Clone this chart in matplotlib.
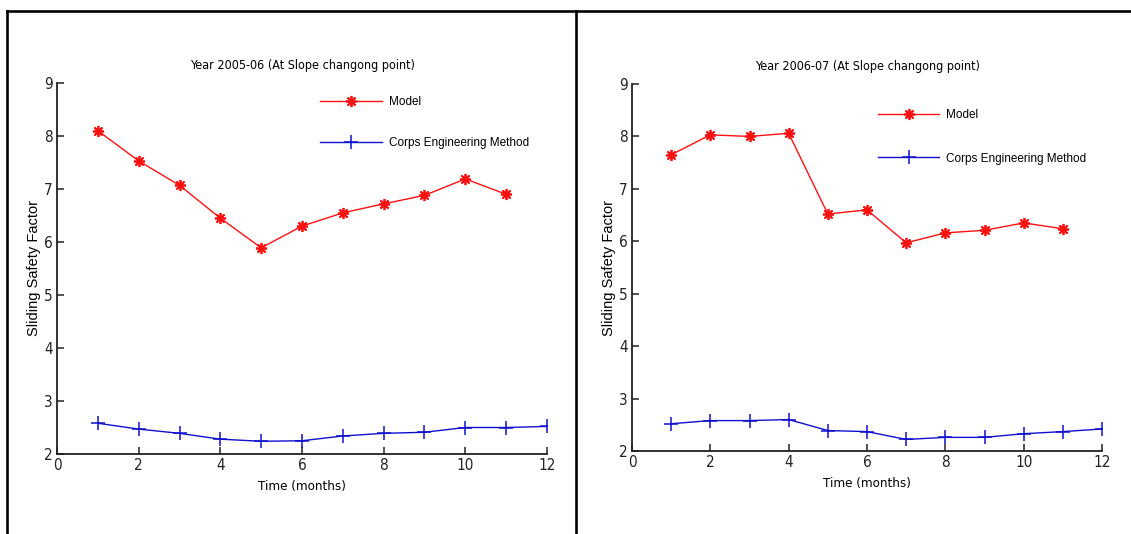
import matplotlib
matplotlib.use('Agg')
import matplotlib.pyplot as plt
from matplotlib.lines import Line2D

# valores
months = [1, 2, 3, 4, 5, 6, 7, 8, 9, 10, 11]
months_corps = [1, 2, 3, 4, 5, 6, 7, 8, 9, 10, 11, 12]

model_0506 = [8.10, 7.53, 7.07, 6.45, 5.89, 6.30, 6.55, 6.72, 6.88, 7.19, 6.90]
corps_0506 = [2.58, 2.47, 2.39, 2.28, 2.24, 2.25, 2.34, 2.39, 2.41, 2.50, 2.50, 2.52]

model_0607 = [7.65, 8.03, 8.00, 8.06, 6.52, 6.60, 5.97, 6.16, 6.21, 6.35, 6.24]
corps_0607 = [2.52, 2.58, 2.58, 2.60, 2.39, 2.37, 2.22, 2.26, 2.26, 2.33, 2.37, 2.42]

titles = ['Year 2005-06 (At Slope changong point)',
          'Year 2006-07 (At Slope changong point)']
x_ticks = [0, 2, 4, 6, 8, 10, 12]
y_ticks = [2, 3, 4, 5, 6, 7, 8, 9]

narrow = dict(family='DejaVu Sans', stretch='condensed')
plain = ['Liberation Sans', 'DejaVu Sans']

W, H = 1131, 534
fig = plt.figure(figsize=(W / 100, H / 100), dpi=100)

def box(px, py, pw, ph):
    return [px / W, 1 - (py + ph) / H, pw / W, ph / H]

def drawPanel(rect, title, model, corps, leg_anchor, leg_space):
    ax = fig.add_axes(rect)
    ax.plot(months, model, color='#ff1010', lw=1.0, marker=(8, 2, 0),
            markersize=8, mew=1.3, label='Model')
    ax.plot(months_corps, corps, color='#1010d0', lw=1.0, marker='+',
            markersize=10, mew=1.1, label='Corps Engineering Method')
    ax.set_xlim(0, 12)
    ax.set_ylim(2, 9)
    ax.set_xticks(x_ticks)
    ax.set_yticks(y_ticks)
    ax.spines['top'].set_visible(False)
    ax.spines['right'].set_visible(False)
    for s in ['left', 'bottom']:
        ax.spines[s].set_linewidth(1.3)
        ax.spines[s].set_color('#222222')
    ax.tick_params(direction='in', length=5, width=1.1, pad=3,
                   colors='#222222', labelsize=11)
    for lab in ax.get_xticklabels() + ax.get_yticklabels():
        lab.set_family(narrow['family'])
        lab.set_stretch(narrow['stretch'])
    ax.set_title(title, fontsize=9, pad=10, **narrow)
    ax.set_xlabel('Time (months)', fontsize=9.5, labelpad=5, **narrow)
    ax.set_ylabel('Sliding Safety Factor', fontsize=10.5, family=plain)
    ax.yaxis.set_label_coords(-0.033, 0.5)
    ax.legend(loc='upper left', bbox_to_anchor=leg_anchor, frameon=False,
              numpoints=1, handlelength=5.2, handletextpad=0.6,
              labelspacing=leg_space, borderpad=0, borderaxespad=0,
              prop={'family': plain, 'size': 8.5})
    return ax

drawPanel(box(57, 83, 490, 371), titles[0], model_0506, corps_0506,
          (0.537, 0.964), 2.4)
drawPanel(box(632, 84, 470, 367), titles[1], model_0607, corps_0607,
          (0.523, 0.931), 2.65)

# moldura da tabela
lw = 1.9
fig.add_artist(Line2D([7 / W, 1.0], [1 - 11 / H, 1 - 11 / H],
                      transform=fig.transFigure, color='black', lw=lw))
for xp in [7, 576]:
    fig.add_artist(Line2D([xp / W, xp / W], [1 - 11 / H, 0],
                          transform=fig.transFigure, color='black', lw=lw))

fig.savefig('out.png', dpi=100)
